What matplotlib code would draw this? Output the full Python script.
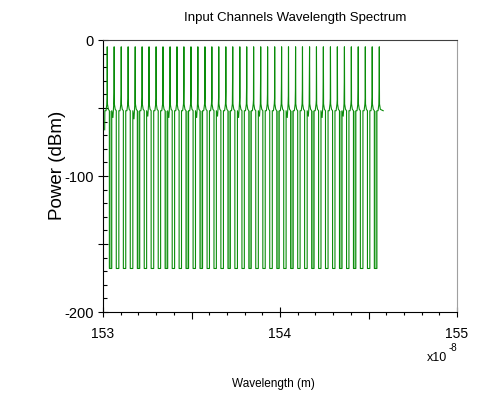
import matplotlib
matplotlib.use("Agg")
import matplotlib.pyplot as plt
from matplotlib.ticker import FixedLocator, FixedFormatter, MultipleLocator

plt.rcParams["axes.unicode_minus"] = False
plt.rcParams["font.family"] = ["Liberation Sans", "DejaVu Sans"]

# channel centre wavelengths (x1e-8 m)
centers = [153.024, 153.063, 153.103, 153.142, 153.182, 153.221, 153.260, 153.300,
           153.339, 153.379, 153.418, 153.457, 153.497, 153.536, 153.576, 153.615,
           153.654, 153.694, 153.733, 153.773, 153.812, 153.851, 153.891, 153.930,
           153.970, 154.009, 154.048, 154.088, 154.127, 154.167, 154.206, 154.245,
           154.285, 154.324, 154.364, 154.403, 154.442, 154.482, 154.521, 154.561]
# peak power of each channel (dBm)
peaks = [-5] * 40
# side-sample power next to each peak (dBm)
shoulders = [-42, -39, -40, -43, -21, -42, -36, -43, -26, -39, -44, -33, -38, -29, -42, -43,
             -42, -38, -28, -42, -35, -44, -30, -40, -43, -33, -41, -37, -37, -26,
             -44, -31, -43, -44, -31, -44, -36, -43, -42, -36]
# floor level just left of each peak (dBm)
dips = [-52, -57, -52, -52, -58, -52, -56, -52, -52, -57, -52, -52, -52, -57, -52, -52,
        -56, -52, -52, -57, -52, -52, -56, -52, -52, -52, -57, -52, -52, -56,
        -52, -57, -52, -52, -56, -52, -52, -52, -52, -52]
# channels whose empty gap shows light shading
shaded = [0, 4, 8, 11, 13, 17, 20, 24, 26, 29, 33, 35, 38]

floor_edge = -52
floor_top = -47
empty_level = -168
start_level = -66
# offsets (x1e-8 m) of the samples around a channel centre
left_dx = -0.0135
dip_dx = -0.007
base_l_dx = -0.0022
shoulder_dx = -0.0009
base_r_dx = 0.0012
floor_r_dx = 0.006
right_dx = 0.012
end_dx = 0.022

xs, ys = [], []
for i, c in enumerate(centers):
    if i == 0:
        xs += [c + left_dx - 0.001, c + left_dx]
        ys += [start_level, floor_edge]
    else:
        xs += [c + left_dx, c + left_dx]
        ys += [empty_level, floor_edge]
    xs += [c + dip_dx, c + base_l_dx, c + shoulder_dx, c, c + base_r_dx, c + floor_r_dx]
    ys += [dips[i], floor_top, shoulders[i], peaks[i], floor_top, floor_edge + 1]
    if i < len(centers) - 1:
        xs += [c + right_dx, c + right_dx]
        ys += [floor_edge, empty_level]
    else:
        xs += [c + end_dx]
        ys += [floor_edge]

fig = plt.figure(figsize=(4.97, 4.0), dpi=100)
ax = fig.add_axes([103 / 497, 88 / 400, 354 / 497, 272 / 400])

for i in shaded:
    x0 = centers[i] + right_dx
    x1 = centers[i + 1] + left_dx
    ax.fill_between([x0, x1], empty_level, floor_edge, color="#8fce8f", lw=0, zorder=1)

ax.plot(xs, ys, color="#0a8c0a", lw=0.8, zorder=2)

ax.set_xlim(153, 155)
ax.set_ylim(-200, 0)

# x ticks
ax.xaxis.set_major_locator(FixedLocator([153, 154, 155]))
ax.xaxis.set_major_formatter(FixedFormatter(["153", "154", "155"]))
ax.xaxis.set_minor_locator(MultipleLocator(0.1))
ax.tick_params(axis="x", which="major", direction="inout", length=7.5, width=0.8, pad=7,
               labelsize=10)
ax.tick_params(axis="x", which="minor", direction="out", length=2.5, width=0.8)
# y ticks
ax.yaxis.set_major_locator(FixedLocator([0, -50, -100, -150, -200]))
ax.yaxis.set_major_formatter(FixedFormatter(["0", "", "-100", "", "-200"]))
ax.yaxis.set_minor_locator(MultipleLocator(10))
ax.tick_params(axis="y", which="major", direction="inout", length=7.5, width=0.8, pad=3,
               labelsize=10.5)
ax.tick_params(axis="y", which="minor", direction="in", length=3, width=0.8)

fig.canvas.draw()
for t in ax.xaxis.get_minor_ticks():
    loc = t.get_loc()
    if abs(loc * 2 - round(loc * 2)) < 1e-6 and abs(loc - round(loc)) > 1e-6:
        t.tick1line.set_markersize(5)

ax.spines["right"].set_color("#a0a0a0")
ax.spines["top"].set_color("#404040")
for s in ["left", "bottom"]:
    ax.spines[s].set_color("black")
    ax.spines[s].set_linewidth(0.8)

fig.text(295 / 497, 1 - 18 / 400, "Input Channels Wavelength Spectrum", ha="center",
         va="center", fontsize=9.5)
fig.text(57 / 497, 1 - 165 / 400, "Power (dBm)", ha="center", va="center", rotation=90,
         fontsize=13.5)
fig.text(273 / 497, 1 - 384 / 400, "Wavelength (m)", ha="center", va="center",
         fontsize=8.5)
fig.text(427 / 497, 1 - 358 / 400, "x10", ha="left", va="center", fontsize=9)
fig.text(449 / 497, 1 - 348 / 400, "-8", ha="left", va="center", fontsize=7)

fig.savefig("out.png", dpi=100)
